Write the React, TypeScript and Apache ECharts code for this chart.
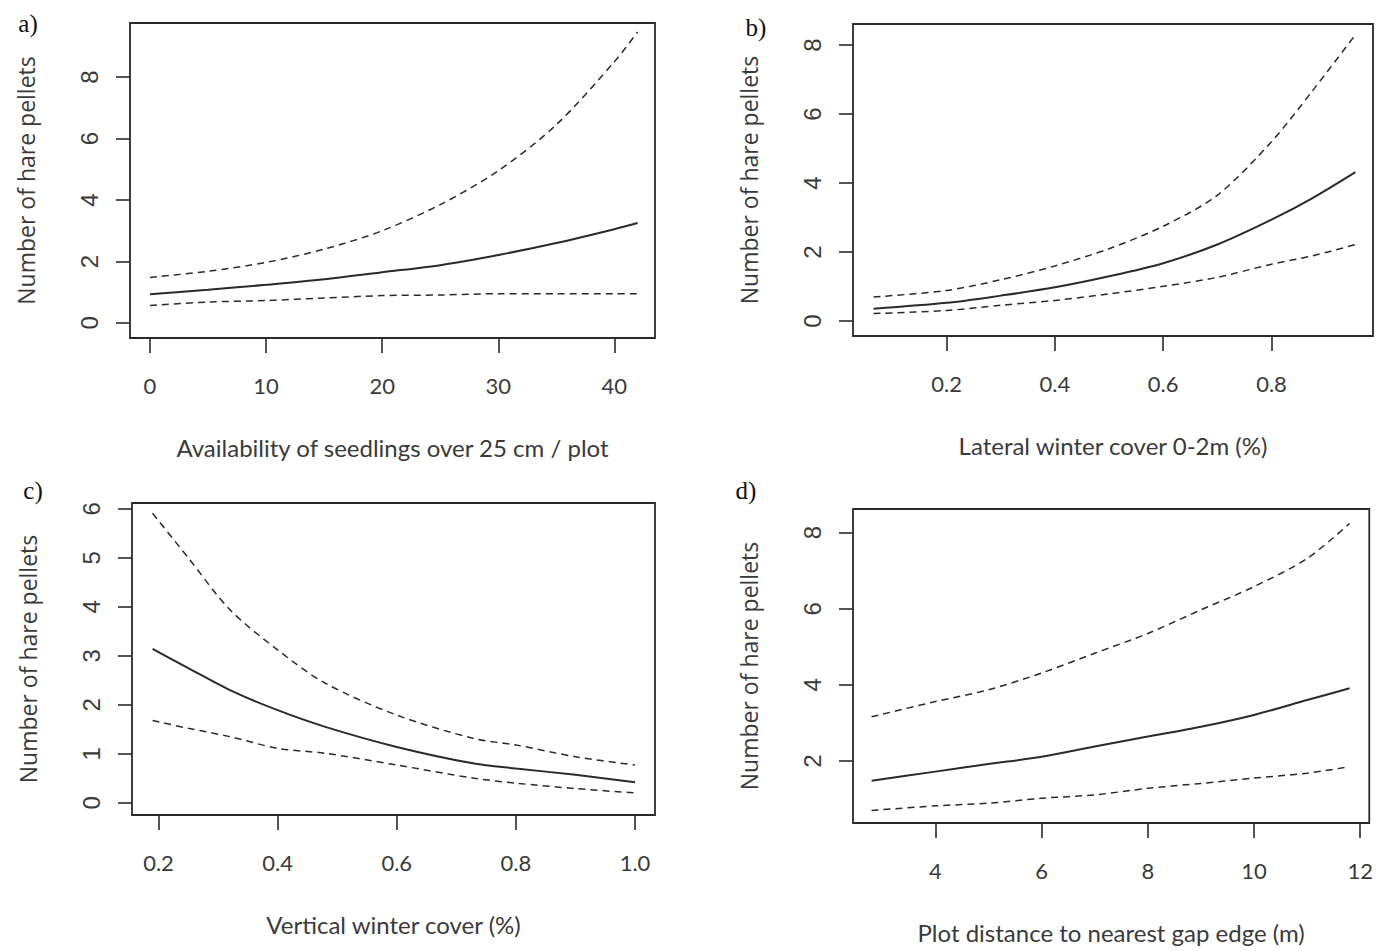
import React, { useEffect, useRef } from "react";
import * as echarts from "echarts";

// Panel a: availability of seedlings
const aX = [0, 5, 10, 15, 20, 25, 30, 35, 40, 42];
const aMean = [0.93, 1.08, 1.24, 1.42, 1.65, 1.88, 2.21, 2.6, 3.05, 3.25];
const aUpper = [1.48, 1.68, 1.97, 2.4, 3.0, 3.85, 4.95, 6.45, 8.5, 9.47];
const aLower = [0.57, 0.68, 0.73, 0.81, 0.89, 0.91, 0.95, 0.95, 0.95, 0.95];
const aXTicks = [0, 10, 20, 30, 40];
const aYTicks = [0, 2, 4, 6, 8];

// Panel b: lateral winter cover
const bX = [0.065, 0.2, 0.3, 0.4, 0.5, 0.6, 0.7, 0.8, 0.875, 0.955];
const bMean = [0.36, 0.53, 0.74, 0.98, 1.3, 1.68, 2.22, 2.94, 3.56, 4.32];
const bUpper = [0.7, 0.89, 1.2, 1.6, 2.1, 2.75, 3.65, 5.2, 6.66, 8.3];
const bLower = [0.22, 0.31, 0.46, 0.6, 0.79, 1.01, 1.27, 1.65, 1.89, 2.22];
const bXTicks = [0.2, 0.4, 0.6, 0.8];
const bYTicks = [0, 2, 4, 6, 8];

// Panel c: vertical winter cover
const cX = [0.19, 0.25, 0.32, 0.4, 0.48, 0.6, 0.73, 0.8, 0.9, 1.0];
const cMean = [3.14, 2.75, 2.3, 1.89, 1.55, 1.14, 0.8, 0.7, 0.57, 0.42];
const cUpper = [5.91, 5.0, 3.94, 3.12, 2.44, 1.79, 1.31, 1.18, 0.94, 0.77];
const cLower = [1.68, 1.52, 1.35, 1.11, 1.01, 0.77, 0.5, 0.4, 0.29, 0.2];
const cXTicks = [0.2, 0.4, 0.6, 0.8, 1.0];
const cYTicks = [0, 1, 2, 3, 4, 5, 6];

// Panel d: plot distance to nearest gap edge
const dX = [2.8, 4, 5, 6, 7, 8, 9, 10, 11, 11.8];
const dMean = [1.48, 1.72, 1.92, 2.11, 2.38, 2.64, 2.9, 3.21, 3.6, 3.91];
const dUpper = [3.16, 3.56, 3.87, 4.31, 4.83, 5.35, 5.97, 6.58, 7.32, 8.24];
const dLower = [0.7, 0.82, 0.89, 1.02, 1.11, 1.28, 1.41, 1.55, 1.68, 1.85];
const dXTicks = [4, 6, 8, 10, 12];
const dYTicks = [2, 4, 6, 8];

const panelLabels = ["a)", "b)", "c)", "d)"];
const xTitles = [
  "Availability of seedlings over 25 cm / plot",
  "Lateral winter cover 0-2m (%)",
  "Vertical winter cover (%)",
  "Plot distance to nearest gap edge (m)",
];
const yTitle = "Number of hare pellets";

const LINE = "#2a2a2a";
const TEXT = "#3a3a3a";

export default function App() {
  const ref = useRef<HTMLDivElement>(null);
  useEffect(() => {
    if (!ref.current) return;
    const chart = echarts.init(ref.current, null, { renderer: "svg" });

    const grids = [
      { left: 130, top: 23, width: 525, height: 315 },
      { left: 853, top: 24, width: 520, height: 312 },
      { left: 132, top: 503, width: 523, height: 312 },
      { left: 853, top: 509, width: 517, height: 314 },
    ];
    const xRanges = [
      [-1.72, 43.5],
      [0.027, 0.9875],
      [0.1555, 1.0336],
      [2.45, 12.17],
    ];
    const yRanges = [
      [-0.49, 9.76],
      [-0.43, 8.61],
      [-0.25, 6.12],
      [0.37, 8.62],
    ];
    const xTicks = [aXTicks, bXTicks, cXTicks, dXTicks];
    const yTicks = [aYTicks, bYTicks, cYTicks, dYTicks];
    const xDecimals = [0, 1, 1, 0];
    const data = [
      [aX, aMean, aUpper, aLower],
      [bX, bMean, bUpper, bLower],
      [cX, cMean, cUpper, cLower],
      [dX, dMean, dUpper, dLower],
    ];

    const tickStyle = { color: LINE, width: 1.6 };

    const xAxis = grids.map((_, i) => ({
      type: "value",
      gridIndex: i,
      position: "bottom",
      min: xRanges[i][0],
      max: xRanges[i][1],
      axisLine: { show: false, onZero: false },
      splitLine: { show: false },
      axisTick: {
        show: true,
        length: 15,
        lineStyle: tickStyle,
        customValues: xTicks[i],
      },
      axisLabel: {
        customValues: xTicks[i],
        margin: 36,
        fontFamily: "Lato",
        fontSize: 22,
        color: TEXT,
        formatter: (v: number) => v.toFixed(xDecimals[i]),
      },
      name: xTitles[i],
      nameLocation: "middle",
      nameGap: 97,
      nameTextStyle: { fontFamily: "Lato", fontSize: 24, color: TEXT },
    }));

    const yAxis = grids.map((_, i) => ({
      type: "value",
      gridIndex: i,
      position: "left",
      min: yRanges[i][0],
      max: yRanges[i][1],
      axisLine: { show: false, onZero: false },
      splitLine: { show: false },
      axisTick: {
        show: true,
        length: 14,
        lineStyle: tickStyle,
        customValues: yTicks[i],
      },
      axisLabel: {
        customValues: yTicks[i],
        rotate: 90,
        margin: 29,
        fontFamily: "Liberation Sans",
        fontSize: 24,
        color: TEXT,
        formatter: (v: number) => String(v),
      },
      name: yTitle,
      nameLocation: "middle",
      nameRotate: 90,
      nameGap: 93,
      nameTextStyle: { fontFamily: "Open Sans", fontSize: 23, color: TEXT },
    }));

    const series: any[] = [];
    data.forEach((d, i) => {
      const [xs, mean, up, low] = d;
      const mk = (ys: number[], dashed: boolean) => ({
        type: "line",
        xAxisIndex: i,
        yAxisIndex: i,
        data: xs.map((x, k) => [x, ys[k]]),
        showSymbol: false,
        smooth: 0.3,
        silent: true,
        lineStyle: {
          color: LINE,
          width: dashed ? 1.5 : 2,
          type: dashed ? [7, 5] : "solid",
        },
      });
      series.push(mk(mean, false), mk(up, true), mk(low, true));
    });

    const labelPos = [
      [28, 23],
      [756, 27],
      [33, 490],
      [746, 490],
    ];

    chart.setOption({
      animation: false,
      backgroundColor: "#ffffff",
      grid: grids.map((g) => ({
        ...g,
        show: true,
        borderColor: LINE,
        borderWidth: 1.8,
        backgroundColor: "transparent",
        containLabel: false,
      })),
      xAxis,
      yAxis,
      series,
      graphic: panelLabels.map((t, i) => ({
        type: "text",
        x: labelPos[i][0],
        y: labelPos[i][1],
        style: {
          text: t,
          fontFamily: "Liberation Serif",
          fontSize: 25,
          fill: "#111",
          align: "center",
          verticalAlign: "middle",
        },
      })),
    });

    return () => chart.dispose();
  }, []);

  return (
    <div
      ref={ref}
      style={{ position: "fixed", left: 0, top: 0, width: 1376, height: 951 }}
    />
  );
}
